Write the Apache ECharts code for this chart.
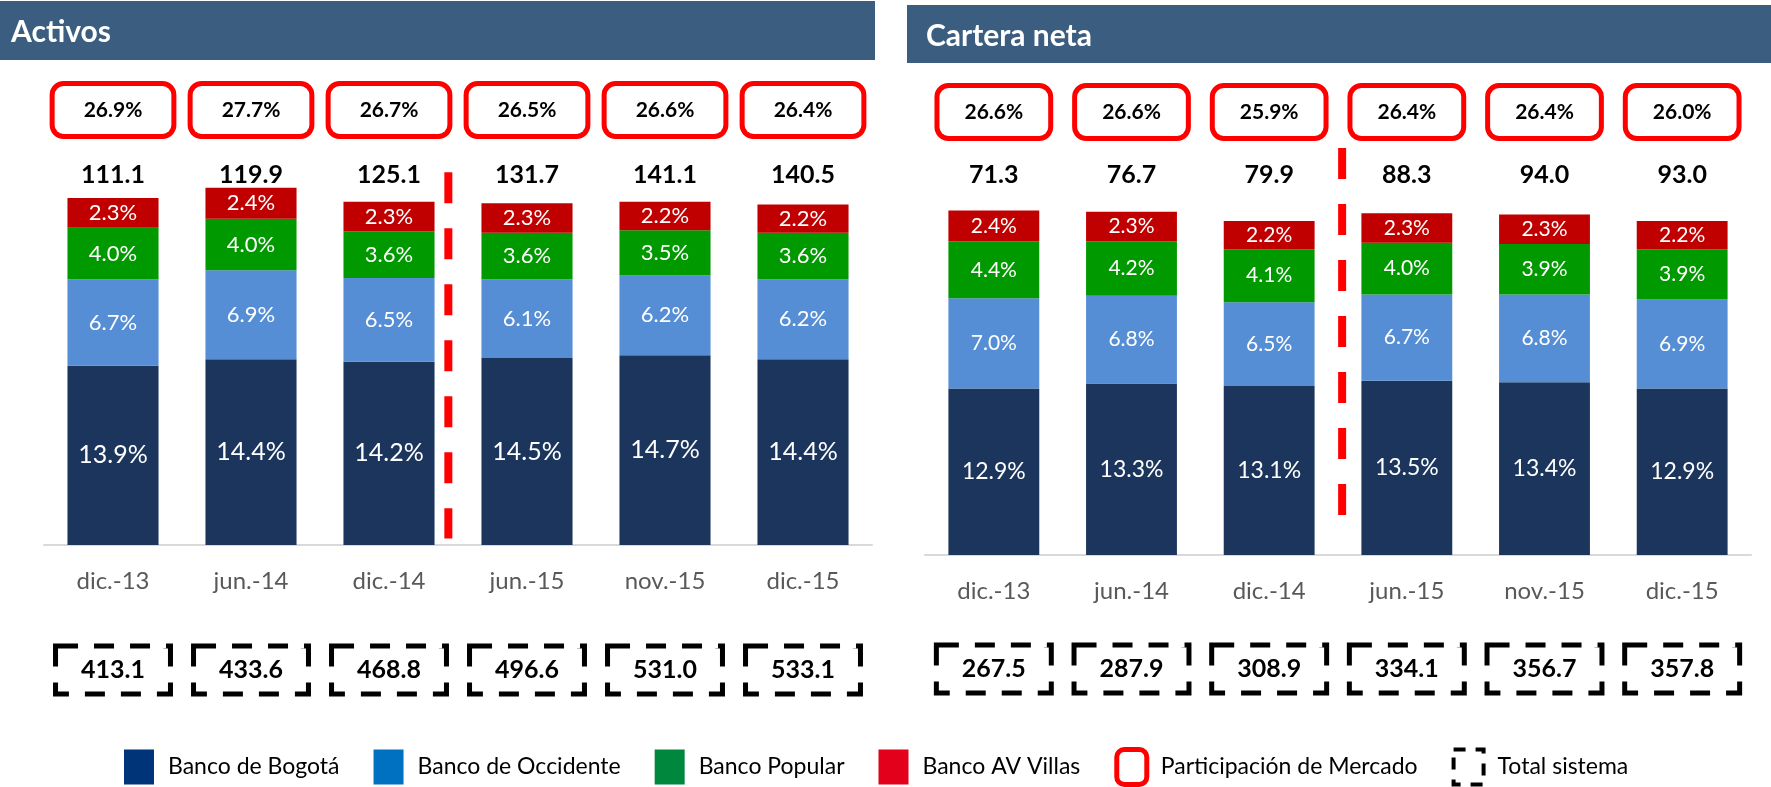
<!DOCTYPE html>
<html>
<head>
<meta charset="utf-8">
<title>Activos y Cartera neta</title>
<script src="https://cdn.jsdelivr.net/npm/echarts@6/dist/echarts.min.js"></script>
<style>
  html, body { margin: 0; padding: 0; background: #fff; }
  #chart { width: 1771px; height: 787px; }
</style>
</head>
<body>
<div id="chart"></div>
<script>
const categories = ['dic.-13', 'jun.-14', 'dic.-14', 'jun.-15', 'nov.-15', 'dic.-15'];

// Activos (participación %, totales en billones)
const activosBogota = [13.9, 14.4, 14.2, 14.5, 14.7, 14.4];
const activosOccidente = [6.7, 6.9, 6.5, 6.1, 6.2, 6.2];
const activosPopular = [4.0, 4.0, 3.6, 3.6, 3.5, 3.6];
const activosAvVillas = [2.3, 2.4, 2.3, 2.3, 2.2, 2.2];
const activosShare = [26.9, 27.7, 26.7, 26.5, 26.6, 26.4];
const activosTotal = [111.1, 119.9, 125.1, 131.7, 141.1, 140.5];
const activosSistema = [413.1, 433.6, 468.8, 496.6, 531.0, 533.1];

// Cartera neta
const carteraBogota = [12.9, 13.3, 13.1, 13.5, 13.4, 12.9];
const carteraOccidente = [7.0, 6.8, 6.5, 6.7, 6.8, 6.9];
const carteraPopular = [4.4, 4.2, 4.1, 4.0, 3.9, 3.9];
const carteraAvVillas = [2.4, 2.3, 2.2, 2.3, 2.3, 2.2];
const carteraShare = [26.6, 26.6, 25.9, 26.4, 26.4, 26.0];
const carteraTotal = [71.3, 76.7, 79.9, 88.3, 94.0, 93.0];
const carteraSistema = [267.5, 287.9, 308.9, 334.1, 356.7, 357.8];

const FONT = 'Lato, "Open Sans", sans-serif';
const YMAX = 32;
const PX_PER_UNIT = 12.9;
const colors = { bogota: '#1b355c', occidente: '#558ed5', popular: '#009900', avVillas: '#c00000' };

const panels = [
  {
    title: 'Activos', left: 44, width: 828, baseline: 545,
    shareY: 110, totalY: 175, sistemaY: 670, sharePad: [13, 29],
    bigFont: 25, smallFont: 22,
    series: [activosBogota, activosOccidente, activosPopular, activosAvVillas],
    share: activosShare, total: activosTotal, sistema: activosSistema,
    divider: [[2.93, 28.9], [2.93, 0.5]]
  },
  {
    title: 'Cartera neta', left: 925, width: 826, baseline: 555,
    shareY: 112, totalY: 175, sistemaY: 669, sharePad: [13, 25],
    bigFont: 23, smallFont: 21,
    series: [carteraBogota, carteraOccidente, carteraPopular, carteraAvVillas],
    share: carteraShare, total: carteraTotal, sistema: carteraSistema,
    divider: [[3.03, 31.55], [3.03, 3.1]]
  }
];

const names = ['Banco de Bogotá', 'Banco de Occidente', 'Banco Popular', 'Banco AV Villas'];
const barColors = [colors.bogota, colors.occidente, colors.popular, colors.avVillas];

const grid = [], xAxis = [], yAxis = [], series = [];

panels.forEach((p, idx) => {
  const g = grid.length, xb = xAxis.length, yb = yAxis.length;
  const mainH = YMAX * PX_PER_UNIT;
  grid.push({ left: p.left, width: p.width, top: p.baseline - mainH, height: mainH });
  [p.shareY, p.totalY, p.sistemaY].forEach(cy => {
    grid.push({ left: p.left, width: p.width, top: cy - 10, height: 20 });
  });

  // main category axis
  xAxis.push({
    type: 'category', gridIndex: g, data: categories,
    axisLine: { lineStyle: { color: '#d9d9d9', width: 2 } },
    axisTick: { length: 9, lineStyle: { color: '#d9d9d9', width: 2 } },
    axisLabel: { fontSize: 24, color: '#595959', margin: 24, fontFamily: FONT }
  });
  for (let r = 1; r <= 3; r++) {
    xAxis.push({ type: 'category', gridIndex: g + r, data: categories, show: false });
  }
  // hidden value axis for the divider line
  xAxis.push({ type: 'value', gridIndex: g, min: 0, max: 6, show: false, position: 'top' });
  const dividerAxis = xb + 4;

  yAxis.push({ type: 'value', gridIndex: g, min: 0, max: YMAX, show: false });
  for (let r = 1; r <= 3; r++) {
    yAxis.push({ type: 'value', gridIndex: g + r, min: -1, max: 1, show: false });
  }

  p.series.forEach((vals, s) => {
    series.push({
      name: names[s], type: 'bar', stack: 'panel' + idx,
      xAxisIndex: xb, yAxisIndex: yb, barWidth: '66%',
      data: vals,
      itemStyle: { color: barColors[s] },
      label: {
        show: true, position: 'inside', color: '#fff', fontFamily: FONT,
        fontSize: s === 0 ? p.bigFont : p.smallFont,
        formatter: q => q.value.toFixed(1) + '%'
      },
      silent: true
    });
  });

  const rowSeries = (name, row, vals, label) => ({
    name, type: 'scatter', xAxisIndex: xb + row, yAxisIndex: yb + row,
    symbol: 'rect', symbolSize: 1, itemStyle: { color: 'rgba(0,0,0,0)', opacity: 1 }, silent: true,
    data: vals.map((v, i) => [categories[i], 0, v]),
    label: Object.assign({ show: true, position: 'inside', fontFamily: FONT, color: '#000', fontWeight: 'bold' }, label)
  });

  series.push(rowSeries('Participación de Mercado', 1, p.share, {
    fontSize: 21, lineHeight: 22, padding: p.sharePad, backgroundColor: '#fff',
    borderColor: '#ff0000', borderWidth: 5, borderRadius: 9,
    formatter: q => q.value[2].toFixed(1) + '%'
  }));
  series.push(rowSeries('Total', 2, p.total, {
    fontSize: 25, formatter: q => q.value[2].toFixed(1)
  }));
  series.push(rowSeries('Total sistema', 3, p.sistema, {
    fontSize: 25, lineHeight: 27, padding: [8, 23], backgroundColor: '#fff',
    borderColor: '#000', borderWidth: 5, borderType: [20, 16],
    formatter: q => q.value[2].toFixed(1)
  }));

  // red dashed divider between 2014 and 2015
  series.push({
    name: 'divider', type: 'line', xAxisIndex: dividerAxis, yAxisIndex: yb,
    data: p.divider, symbol: 'none', silent: true,
    lineStyle: { color: '#ff0000', width: 8, type: [31, 25] }
  });
});

const chart = echarts.init(document.getElementById('chart'));
chart.setOption({
  animation: false,
  textStyle: { fontFamily: FONT },
  graphic: [
    { type: 'rect', shape: { x: 0, y: 1, width: 875, height: 59 }, style: { fill: '#3b5e80' }, z: 0 },
    { type: 'rect', shape: { x: 907, y: 5, width: 864, height: 58 }, style: { fill: '#3b5e80' }, z: 0 }
  ],
  title: [
    { text: 'Activos', left: 11, top: 17, padding: 0, textStyle: { color: '#fff', fontSize: 30, fontWeight: 'bold', fontFamily: FONT } },
    { text: 'Cartera neta', left: 926, top: 21, padding: 0, textStyle: { color: '#fff', fontSize: 30, fontWeight: 'bold', fontFamily: FONT } }
  ],
  legend: {
    left: 124, top: 747, padding: 0, itemWidth: 30, itemHeight: 35, itemGap: 34, selectedMode: false,
    textStyle: { fontSize: 23, color: '#000', fontFamily: FONT, padding: [0, 0, 0, 9] },
    data: [
      { name: 'Banco de Bogotá', icon: 'rect', itemStyle: { color: '#003478' } },
      { name: 'Banco de Occidente', icon: 'rect', itemStyle: { color: '#0070c0' } },
      { name: 'Banco Popular', icon: 'rect', itemStyle: { color: '#00873e' } },
      { name: 'Banco AV Villas', icon: 'rect', itemStyle: { color: '#e2001a' } },
      { name: 'Participación de Mercado', icon: 'roundRect', itemStyle: { color: '#fff', borderColor: '#ff0000', borderWidth: 5 } },
      { name: 'Total sistema', icon: 'rect', itemStyle: { color: '#fff', borderColor: '#000', borderWidth: 4, borderType: [12, 10] } }
    ]
  },
  grid, xAxis, yAxis, series
});
</script>
</body>
</html>
